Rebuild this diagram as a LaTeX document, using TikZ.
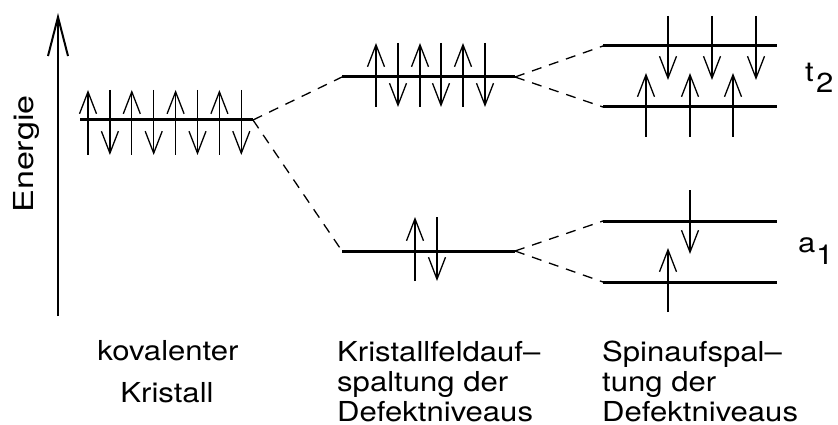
\documentclass[tikz,border=0pt]{standalone}
\usepackage{fontspec}
\setmainfont{TeX Gyre Heros}
\usetikzlibrary{arrows.meta}
\newcommand\widetxt[1]{\scalebox{1.13}[1]{#1}}
\begin{document}
\begin{tikzpicture}[x=1pt,y=-1pt,
 level/.style={line width=3pt},
 spin/.style={line width=1.3pt,-{Straight Barb[length=22pt,width=17pt]}},
 conn/.style={line width=1.3pt,dash pattern=on 10pt off 8pt},
 axis/.style={line width=2pt,-{Straight Barb[length=39pt,width=20pt]}},
 lbl/.style={inner sep=0pt,font=\fontsize{27.5}{31}\selectfont},
 captext/.style={lbl,anchor=base west},
 sym/.style={inner sep=0pt,anchor=base west,font=\fontsize{27.5}{30}\selectfont}]
\useasboundingbox (0,0) rectangle (838,425);
% energy axis
\coordinate (ax0) at (58,316);
\coordinate (ax1) at (58,13);
\draw[axis] (ax0) -- (ax1);
\node[lbl,rotate=90,anchor=base] (energie) at (33,154) {\scalebox{1.24}[1]{Energie}};
% levels
\coordinate (K0) at (80,120);   \coordinate (K1) at (253,120);
\coordinate (MU0) at (342,77);  \coordinate (MU1) at (515,77);
\coordinate (ML0) at (342,251); \coordinate (ML1) at (515,251);
\coordinate (TU0) at (603,46);  \coordinate (TU1) at (777,46);
\coordinate (TL0) at (603,107); \coordinate (TL1) at (777,107);
\coordinate (AU0) at (603,221); \coordinate (AU1) at (777,221);
\coordinate (AL0) at (603,282); \coordinate (AL1) at (777,282);
\foreach \a/\b in {K0/K1,MU0/MU1,ML0/ML1,TU0/TU1,TL0/TL1,AU0/AU1,AL0/AL1}
  \draw[level] (\a) -- (\b);
% dashed connections
\draw[conn] (K1) -- (MU0);
\draw[conn] (K1) -- (ML0);
\draw[conn] (MU1) -- (TU0);
\draw[conn] (MU1) -- (TL0);
\draw[conn] (ML1) -- (AU0);
\draw[conn] (ML1) -- (AL0);
% spins: covalent crystal
\foreach \x in {88,131.8,175.6,219.4} \draw[spin] (\x,155) -- (\x,90);
\foreach \x in {109.9,153.7,197.5,241.3} \draw[spin] (\x,90) -- (\x,155);
% crystal field, upper
\foreach \x in {376,420,463} \draw[spin] (\x,107) -- (\x,43);
\foreach \x in {398,441,485} \draw[spin] (\x,43) -- (\x,107);
% crystal field, lower
\draw[spin] (415,281) -- (415,217);
\draw[spin] (437,217) -- (437,281);
% spin splitting t2
\foreach \x in {668,712,756} \draw[spin] (\x,16) -- (\x,80);
\foreach \x in {646,690,733} \draw[spin] (\x,137) -- (\x,73);
% spin splitting a1
\draw[spin] (690,190) -- (690,254);
\draw[spin] (668,312) -- (668,248);
% level labels
\node[sym] (t) at (805,82) {\widetxt{t}};
\node[sym] (t2) at (816,93) {\widetxt{2}};
\node[sym] (a) at (798,252) {\widetxt{a}};
\node[sym] (a1) at (816,264) {\widetxt{1}};
% column captions
\node[lbl,anchor=base] (c1a) at (168,360) {\widetxt{kovalenter}};
\node[lbl,anchor=base] (c1b) at (167,402) {\widetxt{Kristall}};
\node[captext] (c2a) at (337,361) {\widetxt{Kristallfeldauf–}};
\node[captext] (c2b) at (337,391) {\widetxt{spaltung der}};
\node[captext] (c2c) at (337,421) {\widetxt{Defektniveaus}};
\node[captext] (c3a) at (602,361) {\widetxt{Spinaufspal–}};
\node[captext] (c3b) at (602,391) {\widetxt{tung der}};
\node[captext] (c3c) at (602,421) {\widetxt{Defektniveaus}};
\end{tikzpicture}
\end{document}
